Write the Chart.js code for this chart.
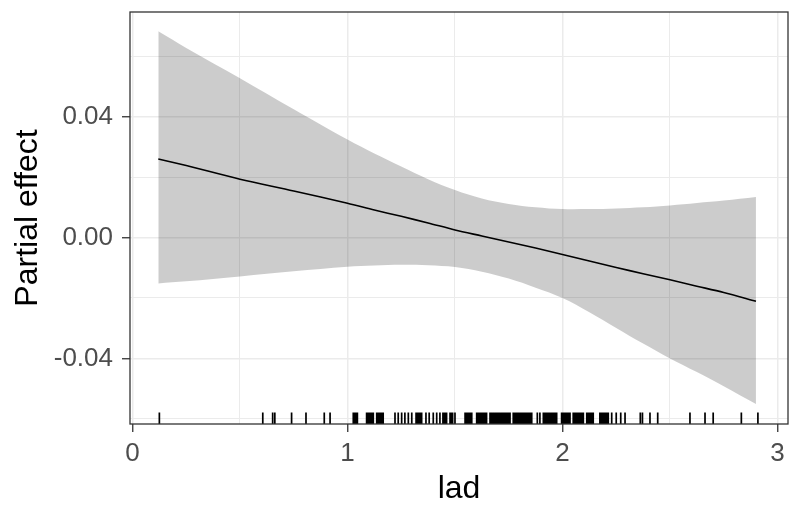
<!DOCTYPE html>
<html><head><meta charset="utf-8">
<script src="https://cdn.jsdelivr.net/npm/chart.js@4.4.1/dist/chart.umd.min.js"></script>
<style>html,body{margin:0;padding:0;background:#fff;}canvas{display:block;}</style>
</head><body>
<canvas id="c" width="790" height="507" style="width:790px;height:507px"></canvas>
<script>
// smooth term grid (lad) and partial effect with confidence band
const lad   = [0.12, 0.25, 0.5, 0.75, 1.0, 1.125, 1.25, 1.375, 1.5, 1.625, 1.75, 1.875, 2.0, 2.125, 2.25, 2.375, 2.5, 2.625, 2.75, 2.9];
const fit   = [0.0260, 0.0238, 0.0193, 0.0154, 0.0113, 0.0091, 0.0070, 0.0048, 0.0025, 0.0005, -0.0015, -0.0035, -0.0056, -0.0078, -0.0099, -0.0120, -0.0140, -0.0161, -0.0182, -0.0211];
const upper = [0.0682, 0.0627, 0.0527, 0.0424, 0.0324, 0.0278, 0.0235, 0.0193, 0.0157, 0.0129, 0.0111, 0.0100, 0.0094, 0.0094, 0.0096, 0.0100, 0.0106, 0.0114, 0.0122, 0.0134];
const lower = [-0.0152, -0.0145, -0.0129, -0.0112, -0.0097, -0.0093, -0.0090, -0.0092, -0.0098, -0.0113, -0.0136, -0.0166, -0.0200, -0.0247, -0.0299, -0.0351, -0.0400, -0.0445, -0.0492, -0.0551];

// observed lad values (rug)
const rugLad = [
  0.125, 0.606, 0.652, 0.662, 0.740, 0.807, 0.892, 0.919,
  1.027, 1.033, 1.040, 1.046,
  1.089, 1.095, 1.101, 1.107, 1.113, 1.120,
  1.136, 1.142, 1.148, 1.154, 1.160, 1.166,
  1.221, 1.236, 1.252, 1.267, 1.283, 1.299,
  1.319, 1.326, 1.332, 1.339, 1.345,
  1.365, 1.380, 1.399, 1.415, 1.430,
  1.444, 1.450, 1.456, 1.461,
  1.477, 1.483, 1.489, 1.500,
  1.547, 1.553, 1.560, 1.566, 1.572, 1.578,
  1.601, 1.608, 1.616, 1.622, 1.629, 1.635, 1.641, 1.647,
  1.663, 1.670, 1.678, 1.686, 1.692, 1.698, 1.703, 1.709,
  1.717, 1.723, 1.730, 1.736, 1.743, 1.750, 1.756,
  1.771, 1.779, 1.787, 1.794, 1.802, 1.808, 1.814, 1.820, 1.826,
  1.833, 1.839, 1.845, 1.851, 1.857,
  1.883, 1.895, 1.911, 1.917, 1.923, 1.930, 1.936, 1.942,
  1.950, 1.956, 1.962, 1.968, 1.973,
  1.996, 2.002, 2.008, 2.015, 2.021, 2.028, 2.035,
  2.050, 2.056, 2.062, 2.069, 2.076, 2.083, 2.090, 2.097,
  2.113, 2.119, 2.125, 2.131, 2.137, 2.143,
  2.174, 2.180, 2.187, 2.194, 2.200, 2.207, 2.213,
  2.229, 2.250, 2.271, 2.291, 2.362, 2.372, 2.407, 2.443,
  2.593, 2.663, 2.701, 2.832, 2.909
];

// axes
const xMajor = [0, 1, 2, 3];
const xMajorLabels = ['0', '1', '2', '3'];
const xMinor = [0.5, 1.5, 2.5];
const yMajor = [-0.04, 0, 0.04];
const yMajorLabels = ['-0.04', '0.00', '0.04'];
const yMinor = [-0.06, -0.02, 0.02, 0.06];
const xRange = [-0.0116, 3.049];
const yRange = [-0.0617, 0.0746];

Chart.defaults.font.family = '"Liberation Sans", Arial, Helvetica, sans-serif';

const pts = (ys) => lad.map((x, i) => ({x: x, y: ys[i]}));
const allX = xMajor.concat(xMinor).sort((a, b) => a - b);
const allY = yMajor.concat(yMinor).sort((a, b) => a - b);
const isMajX = (v) => xMajor.indexOf(v) >= 0;
const isMajY = (v) => yMajor.indexOf(v) >= 0;

const panelBorder = {
  id: 'panelBorder',
  afterDraw(chart) {
    const {ctx, chartArea: a} = chart;
    ctx.save();
    ctx.strokeStyle = '#333333';
    ctx.lineWidth = 1.3;
    ctx.strokeRect(a.left, a.top, a.right - a.left, a.bottom - a.top);
    ctx.restore();
  }
};

const rug = {
  id: 'rug',
  afterDatasetsDraw(chart) {
    const {ctx, chartArea: a} = chart;
    const xs = chart.scales.x;
    ctx.save();
    ctx.strokeStyle = '#000000';
    ctx.lineWidth = 1.7;
    ctx.beginPath();
    rugLad.forEach(v => {
      const px = xs.getPixelForValue(v);
      ctx.moveTo(px, a.bottom);
      ctx.lineTo(px, a.bottom - 11.5);
    });
    ctx.stroke();
    ctx.restore();
  }
};

new Chart(document.getElementById('c'), {
  type: 'line',
  data: {
    datasets: [
      {label: 'upper', data: pts(upper), borderWidth: 0, pointRadius: 0, fill: '+1',
       backgroundColor: 'rgba(0,0,0,0.2)', borderColor: 'rgba(0,0,0,0)', tension: 0.35},
      {label: 'lower', data: pts(lower), borderWidth: 0, pointRadius: 0, fill: false,
       borderColor: 'rgba(0,0,0,0)', tension: 0.35},
      {label: 'fit', data: pts(fit), borderWidth: 1.6, pointRadius: 0, fill: false,
       borderColor: '#000000', tension: 0.3}
    ]
  },
  options: {
    responsive: false,
    animation: false,
    events: [],
    layout: {autoPadding: false, padding: {left: 0, top: 12, right: 2, bottom: 0}},
    plugins: {legend: {display: false}, tooltip: {enabled: false}},
    scales: {
      x: {
        type: 'linear', min: xRange[0], max: xRange[1],
        afterBuildTicks: (s) => { s.ticks = allX.map(v => ({value: v})); },
        afterFit: (s) => { s.height = 83; s.paddingLeft = 0; s.paddingRight = 0; },
        border: {display: false},
        grid: {
          color: '#EBEBEB',
          lineWidth: (c) => (c.tick && isMajX(c.tick.value)) ? 1.5 : 1,
          tickColor: (c) => (c.tick && isMajX(c.tick.value)) ? '#333333' : 'rgba(0,0,0,0)',
          tickLength: 8, tickWidth: 1.3
        },
        ticks: {
          color: '#4D4D4D', font: {size: 26}, padding: 6, maxRotation: 0, autoSkip: false,
          callback: (v) => { const i = xMajor.indexOf(v); return i >= 0 ? xMajorLabels[i] : ''; }
        },
        title: {display: true, text: 'lad', color: '#000000', font: {size: 32, lineHeight: 1}, padding: {top: 0, bottom: 2}}
      },
      y: {
        type: 'linear', min: yRange[0], max: yRange[1],
        afterBuildTicks: (s) => { s.ticks = allY.map(v => ({value: v})); },
        afterFit: (s) => { s.width = 130; s.paddingTop = 0; s.paddingBottom = 0; },
        border: {display: false},
        grid: {
          color: '#EBEBEB',
          lineWidth: (c) => (c.tick && isMajY(c.tick.value)) ? 1.5 : 1,
          tickColor: (c) => (c.tick && isMajY(c.tick.value)) ? '#333333' : 'rgba(0,0,0,0)',
          tickLength: 8, tickWidth: 1.3
        },
        ticks: {
          color: '#4D4D4D', font: {size: 26}, padding: 9, autoSkip: false,
          callback: (v) => { const i = yMajor.indexOf(v); return i >= 0 ? yMajorLabels[i] : ''; }
        },
        title: {display: true, text: 'Partial effect', color: '#000000', font: {size: 32, lineHeight: 1}, padding: {top: 12, bottom: 0}}
      }
    }
  },
  plugins: [rug, panelBorder]
});
</script>
</body></html>
